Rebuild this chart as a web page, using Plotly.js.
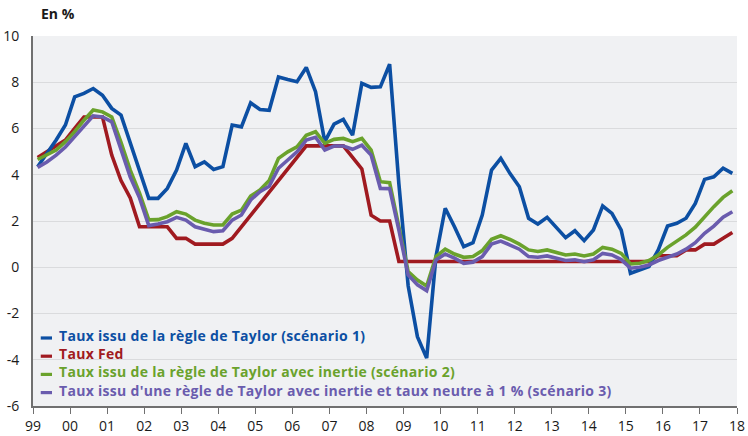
<!DOCTYPE html>
<html>
<head>
<meta charset="utf-8">
<script src="https://cdn.plot.ly/plotly-3.0.1.min.js"></script>
<style>
html,body{margin:0;padding:0;background:#fff;}
#chart{width:748px;height:436px;}
</style>
</head>
<body>
<div id="chart"></div>
<script>
// Quarterly data, 1999Q1 .. 2017Q4
var startYear = 1999;
var nQuarters = 76;

var taylorS1 = [4.35,4.9,5.5,6.15, 7.37,7.52,7.73,7.44, 6.87,6.58,5.4,4.1, 2.98,2.98,3.41,4.2,
  5.36,4.35,4.56,4.23, 4.35,6.15,6.07,7.11, 6.82,6.79,8.23,8.12, 8.02,8.64,7.59,5.43,
  6.19,6.39,5.71,7.95, 7.78,7.8,8.78,3.6, -0.8,-3.0,-3.93,0.46, 2.55,1.75,0.89,1.06,
  2.26,4.2,4.71,4.05, 3.48,2.12,1.87,2.16, 1.73,1.28,1.58,1.15, 1.61,2.65,2.33,1.61,
  -0.26,-0.12,0.03,0.75, 1.78,1.9,2.12,2.76, 3.8,3.91,4.28,4.06];

var tauxFed = [4.75,5.0,5.25,5.5, 6.0,6.5,6.5,6.5, 4.85,3.75,3.0,1.75, 1.75,1.75,1.75,1.25,
  1.25,1.0,1.0,1.0, 1.0,1.25,1.75,2.25, 2.75,3.25,3.75,4.25, 4.75,5.25,5.25,5.25,
  5.25,5.25,4.75,4.25, 2.25,2.0,2.0,0.25, 0.25,0.25,0.25,0.25, 0.25,0.25,0.25,0.25,
  0.25,0.25,0.25,0.25, 0.25,0.25,0.25,0.25, 0.25,0.25,0.25,0.25, 0.25,0.25,0.25,0.25,
  0.25,0.25,0.25,0.5, 0.5,0.5,0.75,0.75, 1.0,1.0,1.25,1.5];

var taylorS2 = [4.66,4.85,5.07,5.43, 5.86,6.36,6.8,6.72, 6.5,5.4,4.2,3.2, 2.05,2.06,2.19,2.4,
  2.3,2.04,1.9,1.83, 1.83,2.3,2.47,3.08, 3.34,3.75,4.71,4.99, 5.21,5.71,5.86,5.36,
  5.53,5.57,5.43,5.57, 5.07,3.7,3.66,1.75, -0.19,-0.55,-0.81,0.46, 0.78,0.57,0.43,0.46,
  0.72,1.21,1.36,1.2, 1.0,0.75,0.68,0.75, 0.63,0.53,0.57,0.49, 0.57,0.86,0.78,0.6,
  0.14,0.17,0.29,0.53, 0.86,1.11,1.4,1.73, 2.19,2.62,3.02,3.31];

var taylorS3 = [4.32,4.55,4.85,5.2, 5.65,6.1,6.55,6.5, 6.29,5.1,3.9,3.0, 1.8,1.87,1.97,2.16,
  2.04,1.75,1.64,1.54, 1.58,2.04,2.26,2.91, 3.27,3.5,4.28,4.64, 4.99,5.5,5.62,5.07,
  5.24,5.24,5.1,5.28, 4.85,3.41,3.4,1.61, -0.33,-0.76,-1.01,0.32, 0.57,0.39,0.17,0.22,
  0.46,1.0,1.13,0.96, 0.78,0.46,0.43,0.49, 0.39,0.29,0.32,0.24, 0.32,0.6,0.53,0.33,
  -0.04,0.0,0.1,0.29, 0.43,0.57,0.78,1.06, 1.47,1.78,2.16,2.4];

var seriesNames = [
  "Taux issu de la règle de Taylor (scénario 1)",
  "Taux Fed",
  "Taux issu de la règle de Taylor avec inertie (scénario 2)",
  "Taux issu d'une règle de Taylor avec inertie et taux neutre à 1 % (scénario 3)"
];
var seriesColors = ["#0c4fa3", "#a01a20", "#6aa22c", "#6a5cae"];

var yearTicks = [1999,2000,2001,2002,2003,2004,2005,2006,2007,2008,2009,2010,2011,2012,2013,2014,2015,2016,2017,2018];
var yearLabels = ["99","00","01","02","03","04","05","06","07","08","09","10","11","12","13","14","15","16","17","18"];
var yTicks = [-6,-4,-2,0,2,4,6,8,10];
var yLabels = ["-6","-4","-2","0","2","4","6","8","10"];

// quarter mid-points
var xq = [];
for (var i = 0; i < nQuarters; i++) xq.push(startYear + (i + 0.5) / 4);

var allSeries = [taylorS1, tauxFed, taylorS2, taylorS3];
var drawOrder = [1, 0, 2, 3];
var traces = drawOrder.map(function(k){
  return {
    x: xq, y: allSeries[k], type: "scatter", mode: "lines",
    name: seriesNames[k],
    line: {color: seriesColors[k], width: 3.6},
    hoverinfo: "skip", showlegend: false
  };
});

var FONT = "'Open Sans', Lato, sans-serif";
var legendText = seriesNames.map(function(n, k){
  return '<span style="color:' + seriesColors[k] + ';letter-spacing:0.3px"><b>' + n + '</b></span>';
}).join('<br>');

var annotations = [{
  xref: "paper", yref: "paper", x: 0.008, y: 1.06, xanchor: "left", yanchor: "middle",
  text: "<b>En %</b>", showarrow: false,
  font: {family: FONT, size: 14, color: "#1a1a1a"}
}, {
  xref: "paper", yref: "paper", x: 0.0345, y: 0.1154, xanchor: "left", yanchor: "middle",
  align: "left", text: legendText, showarrow: false,
  font: {family: FONT, size: 14, color: "#1a1a1a"}
}];
var shapes = [];
var swY = [0.1838, 0.1346, 0.0854, 0.0362];
for (var k = 0; k < 4; k++) {
  shapes.push({
    type: "line", xref: "paper", yref: "paper",
    x0: 0.011, x1: 0.027, y0: swY[k], y1: swY[k],
    line: {color: seriesColors[k], width: 3.2}
  });
}

var layout = {
  width: 748, height: 436,
  margin: {l: 33, r: 11, t: 36, b: 30},
  paper_bgcolor: "#ffffff",
  plot_bgcolor: "#f0f1f3",
  showlegend: false,
  font: {family: FONT, size: 14, color: "#1a1a1a"},
  xaxis: {
    range: [1999, 2018],
    tickvals: yearTicks, ticktext: yearLabels,
    ticks: "outside", ticklen: 6, tickwidth: 1, tickcolor: "#707070",
    showline: true, linecolor: "#707070", linewidth: 2,
    showgrid: false, zeroline: false,
    tickfont: {family: FONT, size: 14, color: "#1a1a1a"}
  },
  yaxis: {
    range: [-6, 10],
    tickvals: yTicks, ticktext: yLabels,
    ticks: "outside", ticklen: 9, tickcolor: "rgba(0,0,0,0)",
    showline: true, linecolor: "#707070", linewidth: 2,
    showgrid: true, gridcolor: "#dadbdd", gridwidth: 1,
    zeroline: false,
    tickfont: {family: FONT, size: 14, color: "#1a1a1a"}
  },
  annotations: annotations,
  shapes: shapes
};

Plotly.newPlot("chart", traces, layout, {displayModeBar: false, staticPlot: true});
</script>
</body>
</html>
